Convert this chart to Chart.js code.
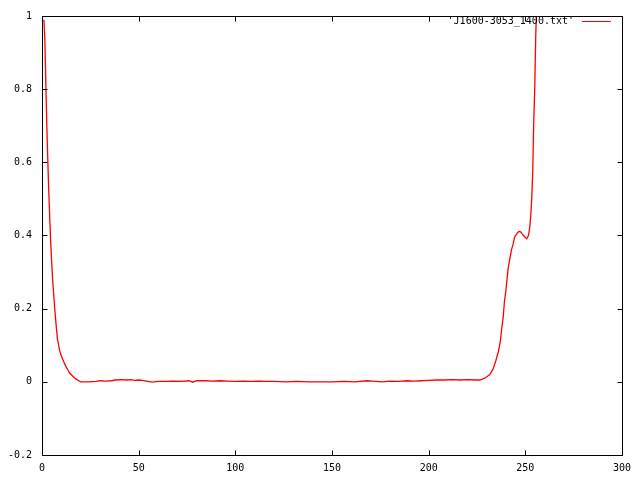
<!DOCTYPE html>
<html>
<head>
<meta charset="utf-8">
<script src="https://cdn.jsdelivr.net/npm/chart.js@4.4.0/dist/chart.umd.min.js"></script>
<style>
  html, body { margin: 0; padding: 0; background: #fff; }
  canvas { display: block; }
</style>
</head>
<body>
<canvas id="plot" width="640" height="480"></canvas>
<script>
// data
const seriesLabel = "'J1600-3053_1400.txt'";
const xValues = [
    1, 1.5, 2, 2.5, 3, 3.5, 4, 4.5, 5, 5.5, 6, 6.5, 7, 7.5, 8,
    9.2, 10.2, 11.3, 12.3, 13.3, 14.3, 15.8, 17.5, 19, 20,
    24, 28, 30, 33, 36, 38, 41, 44, 46, 48, 50, 52, 54, 57, 60,
    64, 68, 72, 76, 78, 80, 84, 88, 92, 96, 100, 104, 108, 112,
    116, 120, 126, 132, 138, 144, 150, 156, 162, 168, 171, 176,
    180, 184, 189, 192, 196, 200, 204, 208, 212, 216, 220, 224, 226.4,
    229, 231.6, 233.2, 234.7, 236.1, 237.1, 237.8, 238.5, 239.2, 239.9,
    240.4, 241.1, 242, 242.8, 243.7, 244.5, 245.6, 246.6, 247.6, 248.7,
    249.7, 250.7, 251.6, 252.3, 252.8, 253.3, 253.8, 254.3, 254.9, 255.4,
    256, 256.5
];
const yValues = [
    0.99, 0.93, 0.81, 0.70, 0.606, 0.52, 0.448, 0.382, 0.328, 0.279, 0.242, 0.206, 0.174, 0.144, 0.117,
    0.084, 0.068, 0.054, 0.043, 0.033, 0.024, 0.016, 0.008, 0.003, 0.0,
    0.0, 0.001, 0.003, 0.002, 0.003, 0.005, 0.006, 0.005, 0.006, 0.004, 0.005, 0.004, 0.002, -0.001, 0.001,
    0.001, 0.002, 0.001, 0.003, -0.001, 0.003, 0.003, 0.002, 0.003, 0.002, 0.001, 0.002, 0.001, 0.002,
    0.001, 0.001, 0.0, 0.001, 0.0, 0.0, 0.0, 0.001, 0.0, 0.003, 0.002, 0.0,
    0.002, 0.001, 0.003, 0.002, 0.003, 0.004, 0.005, 0.005, 0.006, 0.005, 0.006, 0.005, 0.005,
    0.01, 0.02, 0.034, 0.057, 0.084, 0.111, 0.147, 0.174, 0.22, 0.247,
    0.274, 0.31, 0.337, 0.36, 0.377, 0.396, 0.405, 0.411, 0.41, 0.402,
    0.396, 0.391, 0.4, 0.423, 0.454, 0.5, 0.57, 0.70, 0.81, 0.95,
    1.05, 1.2
];
const xTicks = [0, 50, 100, 150, 200, 250, 300];
const yTicks = [-0.2, 0, 0.2, 0.4, 0.6, 0.8, 1];

const FONT = '10px "DejaVu Sans Mono", "Liberation Mono", monospace';

// gnuplot style frame: border, inward ticks on all sides, key in the top right
const framePlugin = {
    id: 'frame',
    afterDraw(chart) {
        const ctx = chart.ctx;
        const area = chart.chartArea;
        const xs = chart.scales.x;
        const ys = chart.scales.y;
        const tickLen = 5;
        ctx.save();
        ctx.strokeStyle = '#000';
        ctx.lineWidth = 1;
        ctx.beginPath();
        const l = Math.round(area.left) + 0.5, r = Math.round(area.right) + 0.5;
        const t = Math.round(area.top) + 0.5, b = Math.round(area.bottom) + 0.5;
        ctx.rect(l, t, r - l, b - t);
        xTicks.forEach(v => {
            const px = Math.round(xs.getPixelForValue(v)) + 0.5;
            ctx.moveTo(px, b); ctx.lineTo(px, b - tickLen);
            ctx.moveTo(px, t); ctx.lineTo(px, t + tickLen);
        });
        yTicks.forEach(v => {
            const py = Math.round(ys.getPixelForValue(v)) + 0.5;
            ctx.moveTo(l, py); ctx.lineTo(l + tickLen, py);
            ctx.moveTo(r, py); ctx.lineTo(r - tickLen, py);
        });
        ctx.stroke();

        // key
        ctx.font = FONT;
        ctx.fillStyle = '#000';
        ctx.textAlign = 'right';
        ctx.textBaseline = 'middle';
        ctx.fillText(seriesLabel, 574, 21);
        ctx.strokeStyle = '#ff0000';
        ctx.beginPath();
        ctx.moveTo(582, 21.5);
        ctx.lineTo(611, 21.5);
        ctx.stroke();
        ctx.restore();
    }
};

new Chart(document.getElementById('plot'), {
    type: 'line',
    data: {
        datasets: [{
            label: seriesLabel,
            data: xValues.map((x, i) => ({ x: x, y: yValues[i] })),
            borderColor: '#ff0000',
            borderWidth: 1.3,
            pointRadius: 0,
            tension: 0,
            fill: false
        }]
    },
    options: {
        responsive: false,
        animation: false,
        layout: { padding: { top: 12, right: 18, left: 0, bottom: 0 } },
        plugins: {
            legend: { display: false },
            tooltip: { enabled: false }
        },
        scales: {
            x: {
                type: 'linear',
                min: 0,
                max: 300,
                grid: { display: false, drawTicks: false },
                border: { display: false },
                afterFit(scale) { scale.height = 25; },
                afterBuildTicks(scale) { scale.ticks = xTicks.map(v => ({ value: v })); },
                ticks: {
                    font: { family: '"DejaVu Sans Mono", "Liberation Mono", monospace', size: 10 },
                    color: '#000',
                    padding: 7,
                    maxRotation: 0,
                    callback: v => String(v)
                }
            },
            y: {
                type: 'linear',
                min: -0.2,
                max: 1,
                grid: { display: false, drawTicks: false },
                border: { display: false },
                afterFit(scale) { scale.width = 42; },
                afterBuildTicks(scale) { scale.ticks = yTicks.map(v => ({ value: v })); },
                ticks: {
                    font: { family: '"DejaVu Sans Mono", "Liberation Mono", monospace', size: 10 },
                    color: '#000',
                    padding: 10,
                    callback: v => String(Math.round(v * 10) / 10)
                }
            }
        }
    },
    plugins: [framePlugin]
});
</script>
</body>
</html>
